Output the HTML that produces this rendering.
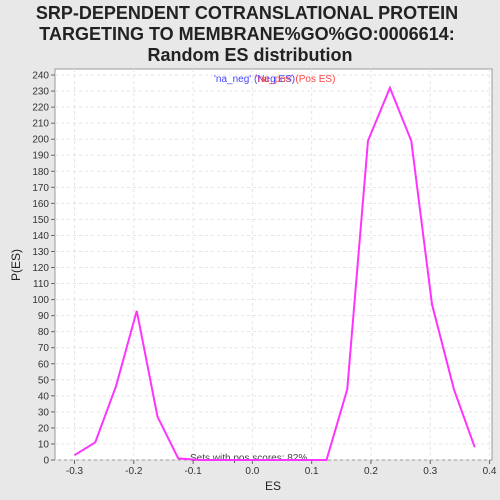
<!DOCTYPE html>
<html><head><meta charset="utf-8"><style>
body{margin:0;background:#e8e8e8;font-family:"Liberation Sans",sans-serif;overflow:hidden}
svg{display:block}
</style></head><body>
<svg width="500" height="500" xmlns="http://www.w3.org/2000/svg">
<rect width="500" height="500" fill="#e8e8e8"/>
<text x="247" y="19" text-anchor="middle" font-size="18" font-weight="bold" fill="#222">SRP-DEPENDENT COTRANSLATIONAL PROTEIN</text>
<text x="247" y="40" text-anchor="middle" font-size="18" font-weight="bold" fill="#222">TARGETING TO MEMBRANE%GO%GO:0006614:</text>
<text x="250" y="61" text-anchor="middle" font-size="18" font-weight="bold" fill="#222">Random ES distribution</text>
<rect x="55" y="69" width="437" height="391" fill="#fff" stroke="#999"/>
<g id="grid"></g><g id="axes"></g>
<text x="20" y="265" transform="rotate(-90 20 265)" text-anchor="middle" font-size="12" fill="#222">P(ES)</text>
<text x="273" y="490" text-anchor="middle" font-size="12" fill="#222">ES</text>
<text x="214" y="82" font-size="10" fill="#4444ff">'na_neg' (Neg ES)</text>
<text x="256" y="82" font-size="10" fill="#ff4444">'na_pos' (Pos ES)</text>
<text x="190" y="461" font-size="10" fill="#444">Sets with pos scores: 82%</text>
<polyline id="line" fill="none" stroke="#ff33ff" stroke-width="2"/>
</svg>
<script>
const esValues=[-0.3,-0.265,-0.23,-0.195,-0.16,-0.125,-0.09,-0.055,-0.02,0.015,0.05,0.09,0.125,0.16,0.195,0.232,0.268,0.303,0.34,0.375];
const pValues=[3,11,46,93,27,1,0,0,0,0,0,0,0,44,199,232,199,97,44,8];
const xTicks=[-0.3,-0.2,-0.1,0.0,0.1,0.2,0.3,0.4];
const yTicks=[];for(let v=0;v<=240;v+=10)yTicks.push(v);
const X=v=>74.5+(v+0.3)*592.9, Y=v=>460-v*1.604;
const ns="http://www.w3.org/2000/svg";
const g=document.getElementById('grid'),a=document.getElementById('axes');
function mk(t,at,p){const e=document.createElementNS(ns,t);for(const k in at)e.setAttribute(k,at[k]);p.appendChild(e);return e;}
yTicks.forEach(v=>{const y=Y(v);
const l=mk('line',{x1:55,x2:492,y1:y,y2:y,stroke:'#e4e4e4','stroke-dasharray':'3,3'},g);

mk('line',{x1:51,x2:55,y1:y,y2:y,stroke:'#666'},a);
const t=mk('text',{x:49,y:y+3.5,'text-anchor':'end','font-size':'10',fill:'#333'},a);t.textContent=v;
});
xTicks.forEach(v=>{const x=X(v);
const l=mk('line',{x1:x,x2:x,y1:69,y2:460,stroke:'#e4e4e4','stroke-dasharray':'3,3'},g);

mk('line',{x1:x,x2:x,y1:460,y2:464,stroke:'#666'},a);
const t=mk('text',{x:x,y:474,'text-anchor':'middle','font-size':'10',fill:'#333'},a);t.textContent=v.toFixed(1);
});
document.getElementById('line').setAttribute('points',esValues.map((v,i)=>X(v)+','+Y(pValues[i])).join(' '));
</script>
</body></html>
